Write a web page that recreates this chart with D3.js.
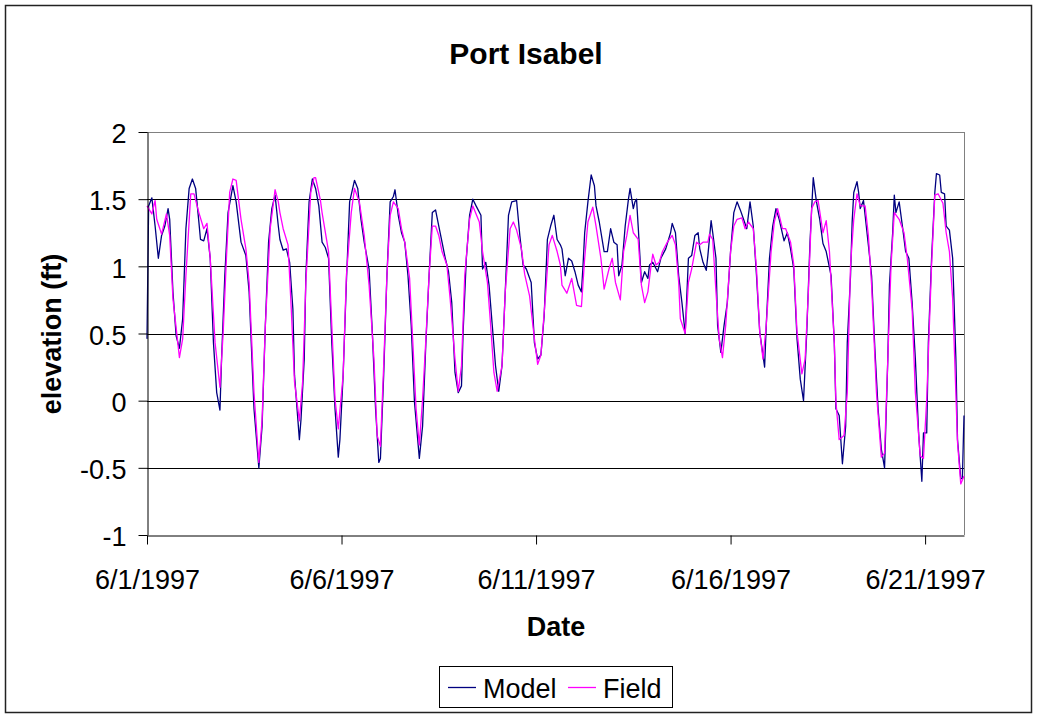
<!DOCTYPE html>
<html>
<head>
<meta charset="utf-8">
<script src="https://cdn.jsdelivr.net/npm/d3@7/dist/d3.min.js"></script>
<style>
  body { margin: 0; background: #fff; }
  svg text { font-family: "Liberation Sans", Arial, sans-serif; fill: #000; }
</style>
</head>
<body>
<svg id="chart" width="1037" height="717"></svg>
<script>
// hours since 6/1/1997 00:00, elevation (ft)
const modelData = [
  [0,0.46],[1,1.45],[3,1.51],[5,1.30],[7,1.06],[9,1.23],[11,1.30],[13,1.43],[14,1.35],[16,0.81],
  [18,0.48],[20,0.39],[22,0.61],[24,1.28],[26,1.58],[28,1.65],[30,1.58],[32,1.33],[33,1.20],[35,1.19],
  [37,1.28],[39,1.06],[41,0.43],[43,0.06],[45,-0.07],[46,0.31],[48,0.93],[50,1.40],[53,1.60],[55,1.48],
  [58,1.18],[61,1.08],[63,0.81],[66,-0.06],[69,-0.50],[71,-0.19],[73,0.56],[75,1.18],[77,1.43],[79,1.53],
  [81,1.30],[82,1.20],[84,1.12],[86,1.13],[88,1.03],[90,0.68],[91,0.19],[94,-0.29],[95,-0.14],[97,0.31],
  [98,0.93],[100,1.48],[102,1.65],[104,1.58],[106,1.45],[108,1.18],[110,1.14],[112,1.06],[114,0.43],[116,-0.06],
  [118,-0.42],[119,-0.29],[121,0.19],[123,0.88],[125,1.48],[128,1.64],[130,1.58],[132,1.35],[134,1.18],[137,0.98],
  [139,0.51],[141,-0.06],[143,-0.46],[144,-0.43],[146,0.19],[148,0.93],[150,1.48],[152,1.52],[153,1.57],[155,1.38],
  [157,1.25],[159,1.18],[161,0.93],[163,0.56],[165,-0.01],[168,-0.43],[170,-0.19],[172,0.42],[174,0.93],[176,1.40],
  [178,1.42],[180,1.30],[182,1.18],[184,1.06],[186,0.96],[188,0.73],[190,0.21],[192,0.06],[194,0.11],[195,0.51],
  [197,1.06],[199,1.38],[201,1.50],[203,1.45],[206,1.38],[207,0.98],[209,1.03],[211,0.86],[213,0.56],[215,0.26],
  [217,0.07],[219,0.26],[221,0.81],[223,1.38],[225,1.48],[228,1.49],[230,1.23],[232,1.01],[234,0.98],[237,0.88],
  [239,0.43],[241,0.31],[243,0.34],[245,0.63],[247,1.20],[249,1.30],[251,1.38],[253,1.20],[255,1.16],[256,1.13],
  [258,0.93],[260,1.06],[262,1.04],[264,0.96],[266,0.86],[268,0.81],[269,1.01],[270,1.25],[272,1.48],[274,1.68],
  [276,1.60],[277,1.45],[279,1.33],[282,1.11],[284,1.11],[286,1.28],[288,1.18],[290,1.16],[291,0.93],[293,1.01],
  [295,1.30],[297,1.50],[298,1.58],[300,1.43],[301,1.48],[302,1.50],[303,1.30],[305,0.88],[307,0.96],[309,0.91],
  [310,1.01],[312,1.03],[315,0.96],[317,1.06],[320,1.13],[323,1.25],[324,1.32],[326,1.25],[328,0.93],[330,0.73],
  [332,0.50],[334,1.06],[336,1.08],[338,1.23],[340,1.25],[341,1.13],[343,1.03],[345,0.97],[346,1.08],[348,1.34],
  [349,1.25],[351,1.06],[352,0.56],[354,0.36],[356,0.56],[358,0.73],[360,1.11],[362,1.40],[364,1.48],[366,1.42],
  [368,1.35],[370,1.28],[371,1.38],[372,1.48],[374,1.30],[376,0.93],[378,0.51],[381,0.25],[382,0.56],[384,1.06],
  [386,1.30],[388,1.43],[390,1.35],[393,1.19],[395,1.25],[397,1.13],[399,0.98],[401,0.46],[403,0.16],[405,0.00],
  [407,0.51],[409,1.18],[411,1.66],[413,1.48],[415,1.35],[417,1.17],[419,1.11],[422,0.93],[424,0.43],[425,-0.06],
  [427,-0.11],[429,-0.47],[431,-0.19],[432,0.43],[434,0.93],[435,1.33],[436,1.55],[438,1.63],[439,1.55],[440,1.43],
  [442,1.49],[443,1.38],[445,1.16],[447,0.93],[449,0.39],[451,-0.06],[453,-0.36],[455,-0.50],[457,0.31],[458,0.86],
  [460,1.25],[461,1.53],[462,1.40],[464,1.48],[466,1.30],[468,1.11],[470,1.06],[472,0.73],[474,0.31],[476,-0.24],
  [478,-0.60],[479,-0.24],[481,-0.24],[482,0.43],[484,1.06],[486,1.55],[487,1.69],[489,1.68],[490,1.55],[492,1.54],
  [493,1.30],[495,1.27],[497,1.06],[499,0.31],[500,-0.29],[502,-0.58],[503,-0.58],[504,-0.11]
];

const fieldData = [
  [0,1.45],[3,1.39],[5,1.49],[6,1.35],[9,1.24],[12,1.39],[14,1.23],[16,0.76],[20,0.32],[22,0.46],
  [24,0.93],[27,1.54],[29,1.54],[32,1.40],[35,1.28],[37,1.32],[39,1.06],[42,0.43],[45,0.10],[47,0.51],
  [49,1.06],[51,1.55],[53,1.65],[55,1.64],[58,1.35],[61,1.13],[63,0.88],[66,0.06],[69,-0.46],[71,-0.14],
  [73,0.56],[76,1.28],[79,1.57],[81,1.48],[82,1.40],[84,1.28],[87,1.16],[89,0.68],[91,0.14],[94,-0.15],
  [96,0.14],[98,0.88],[101,1.55],[103,1.66],[104,1.66],[107,1.49],[108,1.40],[112,1.11],[114,0.56],[116,0.01],
  [118,-0.21],[121,0.19],[123,0.93],[126,1.40],[128,1.58],[131,1.48],[134,1.23],[137,0.86],[140,0.31],[142,-0.26],
  [144,-0.34],[146,0.26],[148,0.93],[150,1.38],[152,1.48],[155,1.43],[157,1.28],[159,1.18],[162,0.91],[164,0.43],
  [166,-0.06],[168,-0.33],[170,0.01],[172,0.45],[174,0.93],[176,1.30],[178,1.30],[180,1.23],[182,1.11],[185,1.01],
  [187,0.76],[190,0.31],[192,0.07],[194,0.26],[196,0.93],[199,1.35],[201,1.45],[205,1.33],[207,1.11],[210,0.88],
  [212,0.56],[214,0.21],[216,0.07],[219,0.26],[221,0.81],[224,1.28],[226,1.33],[228,1.27],[231,1.13],[233,0.94],
  [236,0.78],[239,0.46],[241,0.27],[243,0.34],[246,0.81],[248,1.16],[250,1.23],[253,1.11],[255,1.01],[256,0.86],
  [259,0.80],[262,0.91],[265,0.71],[268,0.70],[270,1.06],[272,1.33],[275,1.44],[277,1.30],[280,1.06],[282,0.83],
  [285,0.98],[287,1.06],[289,0.88],[292,0.75],[294,1.11],[296,1.23],[298,1.38],[300,1.25],[303,1.20],[305,0.86],
  [307,0.73],[309,0.81],[311,1.01],[312,1.09],[314,1.01],[316,1.03],[318,1.11],[321,1.18],[324,1.23],[326,1.16],
  [328,0.88],[329,0.61],[332,0.50],[334,0.88],[336,0.98],[339,1.18],[341,1.16],[343,1.18],[346,1.18],[347,1.24],
  [349,1.20],[351,0.81],[353,0.46],[355,0.32],[357,0.56],[360,1.11],[362,1.30],[364,1.35],[367,1.36],[369,1.28],
  [371,1.33],[374,1.28],[376,0.98],[378,0.51],[380,0.31],[382,0.56],[385,1.11],[387,1.33],[389,1.43],[392,1.28],
  [394,1.28],[397,1.18],[399,1.01],[401,0.51],[404,0.20],[406,0.31],[408,0.81],[410,1.43],[412,1.48],[414,1.49],
  [417,1.25],[419,1.34],[421,1.11],[424,0.43],[425,-0.01],[427,-0.29],[430,-0.26],[432,0.06],[434,1.01],[436,1.35],
  [438,1.54],[440,1.45],[443,1.45],[445,1.23],[447,0.86],[450,0.06],[453,-0.42],[455,-0.39],[457,0.31],[459,1.01],
  [461,1.40],[464,1.35],[467,1.25],[469,1.06],[472,0.68],[474,0.06],[477,-0.41],[479,-0.43],[481,0.01],[484,1.01],
  [486,1.53],[488,1.54],[491,1.47],[493,1.25],[495,1.11],[497,0.76],[500,-0.31],[502,-0.62],[504,-0.56]
];

const seriesNames = ["Model", "Field"];
const seriesColors = ["#000080", "#ff00ff"];
const yTicks = [-1, -0.5, 0, 0.5, 1, 1.5, 2];
const xTickDates = ["1997-06-01", "1997-06-06", "1997-06-11", "1997-06-16", "1997-06-21"];

const start = new Date(1997, 5, 1);
const end = new Date(1997, 5, 22);
const toDate = h => d3.timeHour.offset(start, h);

const svg = d3.select("#chart");
const plot = {left: 147, right: 964, top: 132, bottom: 535};

// outer chart frame
svg.append("rect")
    .attr("x", 5.5).attr("y", 5.5)
    .attr("width", 1026).attr("height", 707)
    .attr("fill", "#fff")
    .attr("stroke", "#222")
    .attr("stroke-width", 1.5);

let x = d3.scaleTime().domain([start, end]).range([plot.left, plot.right]);
let y = d3.scaleLinear().domain([-1, 2]).range([plot.bottom, plot.top]);

// gridlines
svg.append("g")
    .selectAll("line")
    .data(yTicks.filter(d => d > -1))
    .enter().append("line")
    .attr("x1", plot.left).attr("x2", plot.right)
    .attr("y1", d => Math.round(y(d)) + 0.5)
    .attr("y2", d => Math.round(y(d)) + 0.5)
    .attr("stroke", d => d === 2 ? "#808080" : "#000")
    .attr("stroke-width", 1);

// right border of plot area
svg.append("line")
    .attr("x1", plot.right + 0.5).attr("x2", plot.right + 0.5)
    .attr("y1", plot.top).attr("y2", plot.bottom)
    .attr("stroke", "#808080");

// series lines
let line = d3.line()
    .x(d => x(toDate(d[0])))
    .y(d => y(d[1]));

[modelData, fieldData].forEach((data, i) => {
    svg.append("path")
        .datum(data)
        .attr("fill", "none")
        .attr("stroke", seriesColors[i])
        .attr("stroke-width", 1.3)
        .attr("stroke-linejoin", "round")
        .attr("d", line);
});

// y axis
let yAxis = svg.append("g")
    .attr("transform", "translate(" + (plot.left + 0.5) + ",0)")
    .call(d3.axisLeft(y).tickValues(yTicks).tickSize(9).tickSizeOuter(0)
        .tickPadding(12).tickFormat(d => String(d)));
yAxis.select(".domain").attr("stroke", "#000");
yAxis.selectAll("text")
    .style("font-size", "27px")
    .attr("dy", "0.4em");

// x axis
let xAxis = svg.append("g")
    .attr("transform", "translate(0," + (plot.bottom + 0.5) + ")")
    .call(d3.axisBottom(x)
        .tickValues(xTickDates.map(s => d3.timeParse("%Y-%m-%d")(s)))
        .tickSize(9)
        .tickSizeOuter(0)
        .tickFormat(d3.timeFormat("%-m/%-d/%Y")));
xAxis.select(".domain").attr("stroke", "#000");
xAxis.selectAll("text")
    .style("font-size", "27px")
    .attr("y", 53)
    .attr("dy", 0);

// titles
svg.append("text")
    .attr("x", 526).attr("y", 64)
    .attr("text-anchor", "middle")
    .style("font-size", "30px").style("font-weight", "bold")
    .text("Port Isabel");

svg.append("text")
    .attr("transform", "translate(61,334) rotate(-90)")
    .attr("text-anchor", "middle")
    .style("font-size", "27px").style("font-weight", "bold")
    .text("elevation (ft)");

svg.append("text")
    .attr("x", 556).attr("y", 636)
    .attr("text-anchor", "middle")
    .style("font-size", "27px").style("font-weight", "bold")
    .text("Date");

// legend
let legend = svg.append("g");
legend.append("rect")
    .attr("x", 439.5).attr("y", 666.5)
    .attr("width", 233).attr("height", 41)
    .attr("fill", "#fff")
    .attr("stroke", "#000");
let legendX = [448, 568];
seriesNames.forEach((name, i) => {
    legend.append("line")
        .attr("x1", legendX[i]).attr("x2", legendX[i] + 28)
        .attr("y1", 687.5).attr("y2", 687.5)
        .attr("stroke", seriesColors[i])
        .attr("stroke-width", 1.3);
    legend.append("text")
        .attr("x", legendX[i] + 35).attr("y", 698)
        .style("font-size", "27px")
        .text(name);
});
</script>
</body>
</html>
